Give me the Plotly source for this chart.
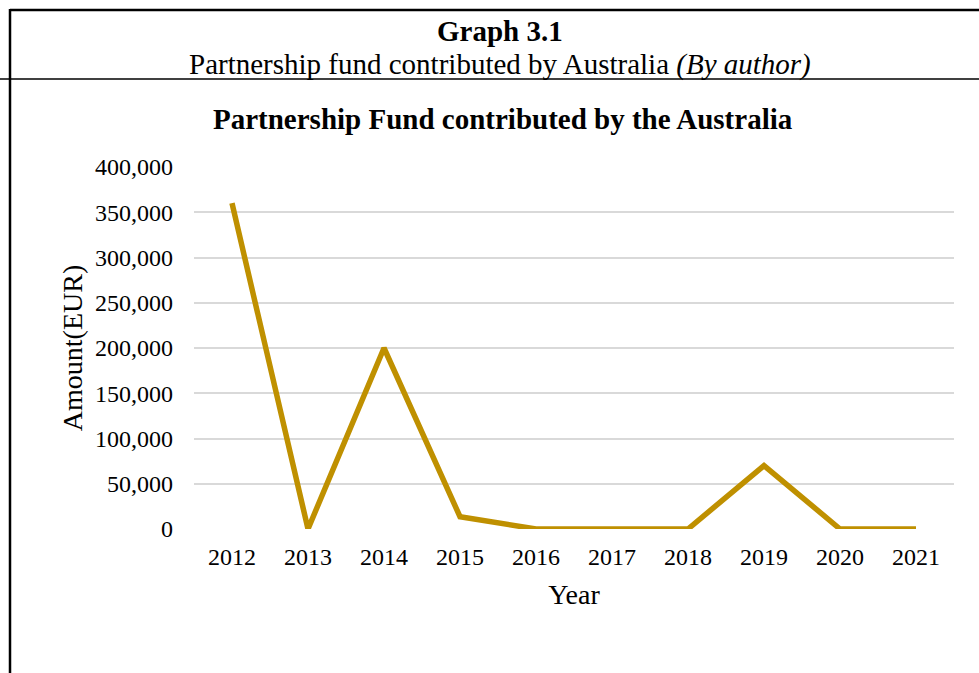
import plotly.graph_objects as go

years = ["2012", "2013", "2014", "2015", "2016", "2017", "2018", "2019", "2020", "2021"]
amounts = [360000, 0, 200000, 13600, 0, 0, 0, 70000, 0, 0]
y_ticks = [0, 50000, 100000, 150000, 200000, 250000, 300000, 350000, 400000]

W, H = 979, 673
L, R, T, B = 194, 25, 167, 144
PW, PH = W - L - R, H - T - B
FONT = "Liberation Serif, Times New Roman, serif"


def px(x):
    return (x - L) / PW


def py(y):
    return (H - B - y) / PH


fig = go.Figure()
fig.add_trace(go.Scatter(
    x=years, y=amounts, mode="lines",
    line=dict(color="#BF9000", width=5.5, shape="linear"),
    hoverinfo="skip", showlegend=False,
))

fig.update_layout(
    width=W, height=H,
    margin=dict(l=L, r=R, t=T, b=B, pad=0),
    paper_bgcolor="white", plot_bgcolor="white",
    font=dict(family=FONT, color="#000000"),
    xaxis=dict(
        type="category", range=[-0.5, len(years) - 0.5],
        showgrid=False, zeroline=False, showline=False,
        tickfont=dict(size=24, color="#000000"),
        ticks="", ticklabelstandoff=11,
        title=dict(text="Year", font=dict(size=28), standoff=15),
    ),
    yaxis=dict(
        range=[0, 400000], tickvals=y_ticks, tickformat=",d",
        showgrid=True, gridcolor="#d9d9d9", gridwidth=1.5,
        zeroline=False, showline=False, ticks="",
        tickfont=dict(size=24, color="#000000"), ticklabelstandoff=20,
        title=dict(text="Amount(EUR)", font=dict(size=28), standoff=4),
    ),
)

# Frame lines around the figure block
fig.add_shape(type="line", xref="paper", yref="paper",
              x0=px(10), x1=px(W), y0=py(10), y1=py(10),
              line=dict(color="#000000", width=2.5))
fig.add_shape(type="line", xref="paper", yref="paper",
              x0=px(10), x1=px(10), y0=py(9), y1=py(H),
              line=dict(color="#000000", width=2.5))
fig.add_shape(type="line", xref="paper", yref="paper",
              x0=px(0), x1=px(W), y0=py(79), y1=py(79),
              line=dict(color="#000000", width=1.5))

fig.add_annotation(text="<b>Graph 3.1</b>", xref="paper", yref="paper",
                   x=px(500), y=py(31), xanchor="center", yanchor="middle",
                   showarrow=False, font=dict(size=29, family=FONT))
fig.add_annotation(text="Partnership fund contributed by Australia <i>(By author)</i>",
                   xref="paper", yref="paper",
                   x=px(500), y=py(64), xanchor="center", yanchor="middle",
                   showarrow=False, font=dict(size=29, family=FONT))
fig.add_annotation(text="<b>Partnership Fund contributed by the Australia</b>",
                   xref="paper", yref="paper",
                   x=px(503), y=py(119), xanchor="center", yanchor="middle",
                   showarrow=False, font=dict(size=29, family=FONT))

fig.write_html("out.html")
